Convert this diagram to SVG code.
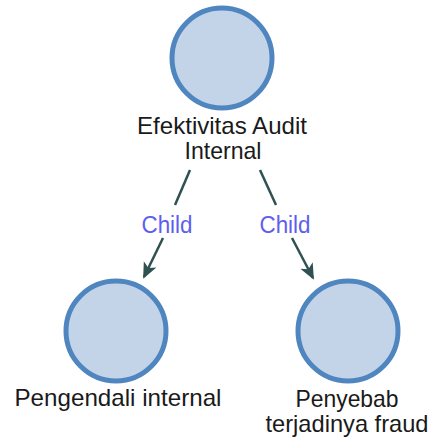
<svg xmlns="http://www.w3.org/2000/svg" width="432" height="440" viewBox="0 0 432 440">
<style>
.node{fill:#c3d4e8;stroke:#4f86c0;stroke-width:5}
.lbl{font-family:"Liberation Sans",Arial,sans-serif;font-size:24px;fill:#1a1a1a;text-anchor:middle}
.edge{stroke:#2f5151;stroke-width:2.5;fill:none}
.el{font-family:"Liberation Sans",Arial,sans-serif;font-size:23px;fill:#5e5eee;text-anchor:middle}
</style>
<defs>
<marker id="arr" markerWidth="16" markerHeight="16" refX="14" refY="7" orient="auto" markerUnits="userSpaceOnUse" viewBox="0 0 16 14">
<path d="M0,0 L16,7 L0,14 L4,7 Z" fill="#2f5151"/>
</marker>
</defs>
<rect width="432" height="440" fill="#ffffff"/>
<g id="connectors">
<line class="edge" x1="190" y1="170" x2="175" y2="205"/>
<line class="edge" x1="163" y1="238" x2="144" y2="277" marker-end="url(#arr)"/>
<text class="el" x="167" y="233" textLength="51" lengthAdjust="spacingAndGlyphs">Child</text>
<line class="edge" x1="260" y1="170" x2="276" y2="205"/>
<line class="edge" x1="292" y1="238" x2="313" y2="278" marker-end="url(#arr)"/>
<text class="el" x="285" y="233" textLength="51" lengthAdjust="spacingAndGlyphs">Child</text>
</g>
<g id="node-efektivitas">
<circle class="node" cx="222" cy="58" r="50"/>
<text class="lbl" x="222" y="134" textLength="170" lengthAdjust="spacingAndGlyphs">Efektivitas Audit</text>
<text class="lbl" x="223" y="159" textLength="77" lengthAdjust="spacingAndGlyphs">Internal</text>
</g>
<g id="node-pengendali">
<circle class="node" cx="116" cy="331" r="50"/>
<text class="lbl" x="118" y="406" textLength="207" lengthAdjust="spacingAndGlyphs">Pengendali internal</text>
</g>
<g id="node-penyebab">
<circle class="node" cx="348" cy="331" r="50"/>
<text class="lbl" x="347" y="407" textLength="103" lengthAdjust="spacingAndGlyphs">Penyebab</text>
<text class="lbl" x="347" y="432" textLength="163" lengthAdjust="spacingAndGlyphs">terjadinya fraud</text>
</g>
</svg>
